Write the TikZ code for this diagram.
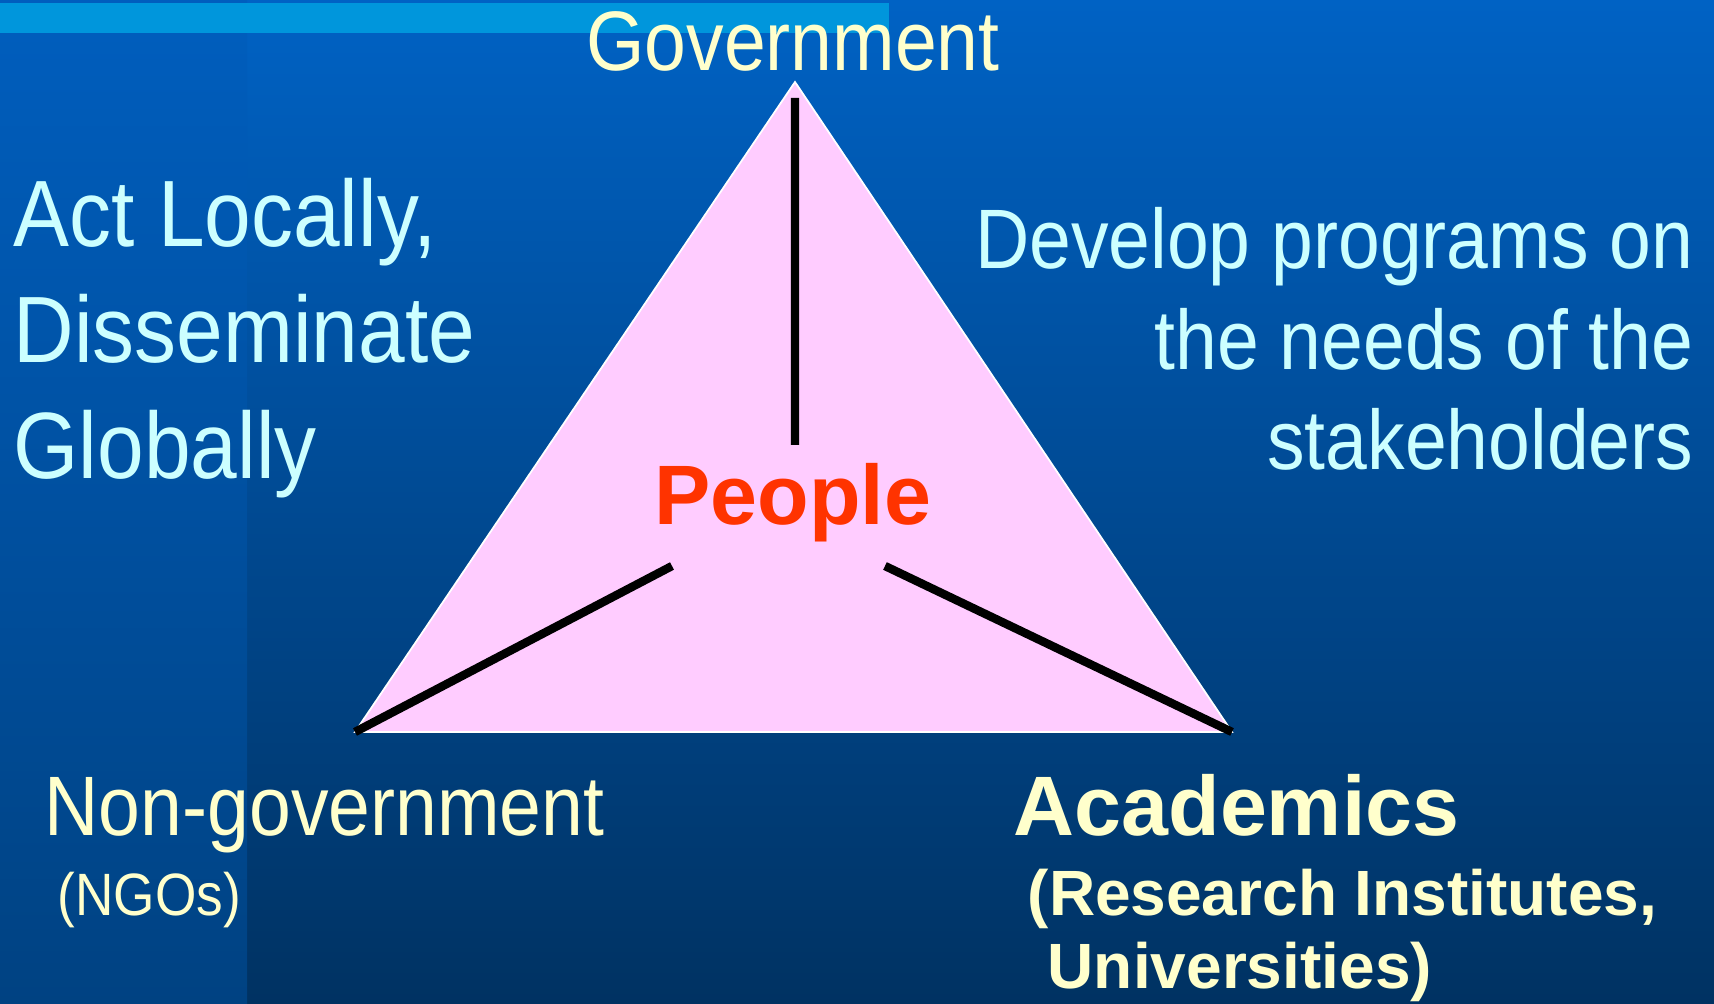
\documentclass[tikz,border=0pt]{standalone}
\usepackage{fontspec}
\setmainfont{Liberation Sans}
\newfontfamily\narrowfont[FakeStretch=0.89]{Liberation Sans}
\usetikzlibrary{positioning}

\definecolor{bgtop}{HTML}{0062C4}
\definecolor{bgbot}{HTML}{003262}
\definecolor{coltop}{HTML}{005EBE}
\definecolor{colbot}{HTML}{004282}
\definecolor{barblue}{HTML}{0096DC}
\definecolor{pinkfill}{HTML}{FFCCFF}
\definecolor{paleyellow}{HTML}{FFFFCC}
\definecolor{palecyan}{HTML}{CCFFFF}
\definecolor{peoplered}{HTML}{FF3300}

\tikzset{
  yellowtext/.style={text=paleyellow, inner sep=0pt},
  cyantext/.style={text=palecyan, inner sep=0pt},
  spoke/.style={line width=2.4pt},
}

\begin{document}
\begin{tikzpicture}[x=0.01cm, y=-0.01cm]

\useasboundingbox (0,0) rectangle (1714,1004);
\shade[top color=bgtop, bottom color=bgbot] (247,0) rectangle (1714,1004);
\shade[top color=coltop, bottom color=colbot] (0,0) rectangle (247,1004);
\fill[barblue] (0,3) rectangle (889,33);

\filldraw[fill=pinkfill, draw=white, line width=0.5pt]
(795,82) coordinate (gov-c)
-- (1232,732) coordinate (acad-c)
-- (355,732) coordinate (ngo-c)
-- cycle;

\coordinate (gov-end) at (795,98);
\coordinate (hub-up) at (795,445);
\coordinate (hub-left) at (672,566);
\coordinate (hub-right) at (885,566);

\draw[spoke]
(gov-end) -- (hub-up)
(hub-left) -- (ngo-c)
(hub-right) -- (acad-c)
;

\node[yellowtext, font=\narrowfont\fontsize{24}{29}\selectfont, anchor=base] (govt) at (793,71) {Government};
\node[text=peoplered, inner sep=0pt, font=\bfseries\fontsize{24}{29}\selectfont, anchor=base] (people) at (793,525) {People};

\node[cyantext, font=\narrowfont\fontsize{26.8}{33.1}\selectfont, align=left, anchor=base west] (act) at (13,479) {Act Locally,\\Disseminate\\Globally};
\node[cyantext, font=\narrowfont\fontsize{24}{28.7}\selectfont, align=right, anchor=base east] (develop) at (1694,470) {Develop programs on\\the needs of the\\stakeholders};

\node[yellowtext, font=\narrowfont\fontsize{24}{29}\selectfont, anchor=base west] (nongov) at (44,836) {Non-government};
\node[yellowtext, font=\narrowfont\fontsize{17}{22}\selectfont, anchor=base west] (ngos) at (57,916) {(NGOs)};

\node[yellowtext, font=\bfseries\fontsize{24}{29}\selectfont, anchor=base west] (academics) at (1013,836) {Academics};
\node[yellowtext, font=\bfseries\fontsize{18.2}{20.8}\selectfont, align=left, anchor=base west] (institutes) at (1027,989) {(Research Institutes,\\\hspace*{5.7pt}Universities)};

\end{tikzpicture}
\end{document}
